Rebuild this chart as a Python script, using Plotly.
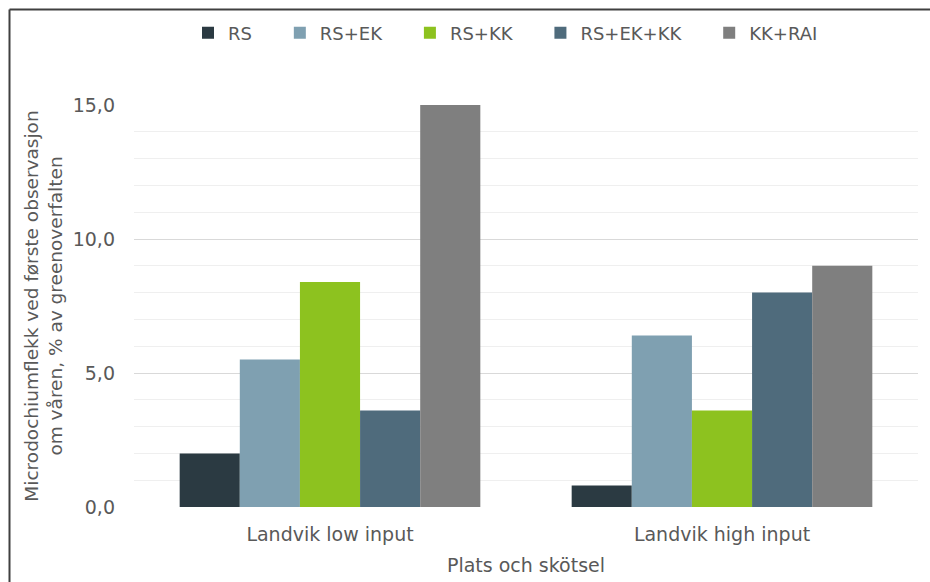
import plotly.graph_objects as go

# Categories (site and management) and treatments
sites = ["Landvik low input", "Landvik high input"]
treatments = ["RS", "RS+EK", "RS+KK", "RS+EK+KK", "KK+RAI"]

# Microdochium patch (% of green area) per treatment, one value per site
rs = [2.0, 0.8]
rs_ek = [5.5, 6.4]
rs_kk = [8.4, 3.6]
rs_ek_kk = [3.6, 8.0]
kk_rai = [15.0, 9.0]

tick_vals = [0, 5, 10, 15]
tick_text = ["0,0", "5,0", "10,0", "15,0"]

colors = ["#2b3a42", "#7fa0b1", "#8dc21f", "#4f6b7c", "#7f7f7f"]
series = [rs, rs_ek, rs_kk, rs_ek_kk, kk_rai]

FONT = "DejaVu Sans"
GREY = "#595959"
PAD = "\u00a0" * 4  # extra room after each legend entry

W, H = 930, 582
L, R, T, B = 134, 12, 105, 75

fig = go.Figure()
for name, vals, col in zip(treatments, series, colors):
    fig.add_trace(go.Bar(x=sites, y=vals, name=name + PAD, marker_color=col,
                         marker_line_width=0))

plot_w = W - L - R
plot_h = H - T - B


def px_x(x):
    return (x - L) / plot_w


def px_y(y):
    return (H - B - y) / plot_h


# outer frame: top and left edges
frame = dict(color="#404040", width=2)
fig.add_shape(type="line", xref="paper", yref="paper",
              x0=px_x(9.5), x1=px_x(W + 5), y0=px_y(9.5), y1=px_y(9.5), line=frame)
fig.add_shape(type="line", xref="paper", yref="paper",
              x0=px_x(9.5), x1=px_x(9.5), y0=px_y(9.5), y1=px_y(H + 5), line=frame)

fig.update_layout(
    width=W, height=H,
    margin=dict(l=L, r=R, t=T, b=B),
    paper_bgcolor="white", plot_bgcolor="white",
    barmode="group", bargap=0.233, bargroupgap=0,
    font=dict(family=FONT, size=19, color=GREY),
    legend=dict(orientation="h", x=px_x(188), xanchor="left",
                y=px_y(33), yanchor="middle",
                font=dict(family=FONT, size=18, color=GREY),
                traceorder="normal"),
    xaxis=dict(showgrid=False, showline=False, ticks="", automargin=False,
               tickfont=dict(size=19, color=GREY),
               ticklabelstandoff=14,
               title=dict(text="Plats och skötsel", standoff=14,
                          font=dict(size=19, color=GREY))),
    yaxis=dict(range=[0, 15], tickvals=tick_vals, ticktext=tick_text,
               showline=False, zeroline=False, ticks="", automargin=False,
               gridcolor="#d9d9d9", gridwidth=1,
               minor=dict(dtick=1, showgrid=True, gridcolor="#efefef", gridwidth=1),
               tickfont=dict(size=19, color=GREY),
               ticklabelstandoff=18,
               title=dict(text="Microdochiumflekk ved første observasjon<br>om våren, % av greenoverfalten",
                          standoff=5, font=dict(size=18.5, color=GREY))),
)

fig.write_html("out.html")
